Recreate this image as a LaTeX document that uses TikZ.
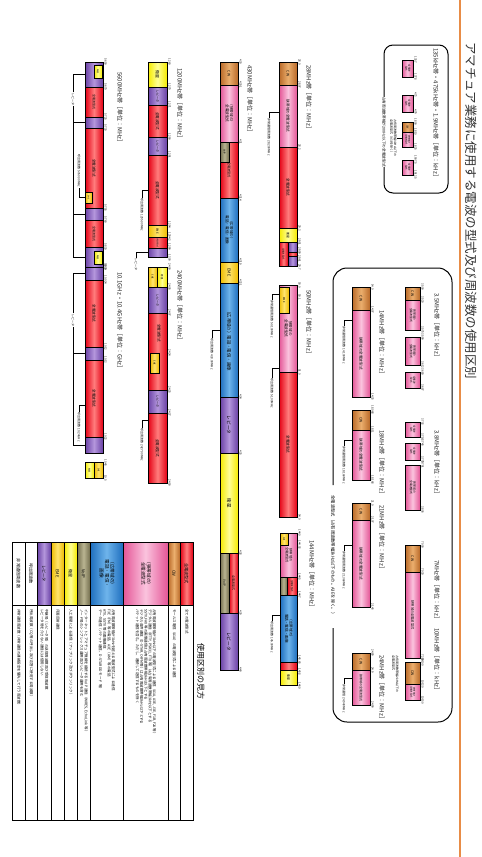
\documentclass[tikz,border=0pt]{standalone}
\usepackage{fontspec}
\usepackage{graphicx}
\newfontfamily\jp{Noto Sans CJK JP}
\newcommand\fz[2]{\fontsize{#1}{#2}\selectfont}
\newcommand\ml[1]{\begin{tabular}{@{}c@{}}#1\end{tabular}}
\newcommand\mll[1]{\begin{tabular}{@{}l@{}}#1\end{tabular}}
\definecolor{pkD}{RGB}{228,85,150}\definecolor{pkL}{RGB}{250,195,222}
\definecolor{rdD}{RGB}{228,0,20}\definecolor{rdL}{RGB}{255,125,125}
\definecolor{blD}{RGB}{30,110,190}\definecolor{blL}{RGB}{110,180,235}
\definecolor{puD}{RGB}{105,65,165}\definecolor{puL}{RGB}{180,150,220}
\definecolor{yeD}{RGB}{245,235,0}\definecolor{yeL}{RGB}{255,255,150}
\definecolor{emD}{RGB}{238,188,0}\definecolor{emL}{RGB}{255,228,110}
\definecolor{cwD}{RGB}{185,105,40}\definecolor{cwL}{RGB}{235,175,110}
\definecolor{olD}{RGB}{115,110,78}\definecolor{olL}{RGB}{185,180,145}
\definecolor{orL}{RGB}{232,140,70}
\newcounter{lc}
\newcommand\sg[7]{\node[seg,#6,minimum width={#4-#2},minimum height={#5-#3}] (#1) at (#2,#3) {\rotatebox{-90}{#7}};}
\newcommand\fls[2]{\foreach \yy/\ft in {#2}{\stepcounter{lc}\node[flab] (L\arabic{lc}) at (#1,\yy) {\ft};}}
\newcommand\lrow[6]{\node[seg,#4,minimum width={#3-#2},minimum height={63}] (#1h) at (#2,542) {\rotatebox{-90}{#5}};
 \node[desc,minimum width={#3-#2},minimum height={215}] (#1d) at (#2,605) {};
 \node[ltext] (#1t) at ({(#2+#3)/2},609) {\mll{#6}};}
\begin{document}
\begin{tikzpicture}[x=1pt,y=-1pt,
 seg/.style={draw=black,line width=0.6pt,inner sep=0pt,outer sep=0pt,anchor=north west,font={\jp\fz{3.6}{4}}},
 fpk/.style={left color=pkD,right color=pkD,middle color=pkL},
 frd/.style={left color=rdD,right color=rdD,middle color=rdL},
 fbl/.style={left color=blD,right color=blD,middle color=blL},
 fpu/.style={left color=puD,right color=puD,middle color=puL},
 fye/.style={left color=yeD,right color=yeD,middle color=yeL},
 fem/.style={left color=emD,right color=emD,middle color=emL},
 fcw/.style={left color=cwD,right color=cwD,middle color=cwL},
 fol/.style={left color=olD,right color=olD,middle color=olL},
 fwh/.style={fill=white},
 flab/.style={font={\jp\fz{2.8}{3}},rotate=-90,anchor=south,inner sep=0.4pt},
 btitle/.style={font={\jp\fz{6}{6}},rotate=-90,anchor=west,inner sep=0pt,text=black!85},
 note/.style={font={\jp\fz{3}{3.5}},rotate=-90,anchor=west,inner sep=0.5pt},
 conn/.style={draw=black,line width=0.8pt},
 boxline/.style={draw=black,line width=1pt},
 desc/.style={draw=black,fill=white,line width=0.6pt,inner sep=0pt,outer sep=0pt,anchor=north west},
 ltext/.style={font={\jp\fz{3.5}{4.3}},rotate=-90,anchor=west,inner sep=0pt}]
\useasboundingbox[fill=white] (0,0) rectangle (482,857);
% title and orange rule
\node[font={\jp\fz{12.5}{12.5}},rotate=-90,anchor=west,inner sep=0pt,text=black!80] (title) at (471,42) {アマチュア業務に使用する電波の型式及び周波数の使用区別};
\draw[orL,line width=2pt] (460,0) -- (460,857);
% ---------- box 1 : 135k / 475k / 1.9M
\draw[boxline,rounded corners=9pt] (384,97) -- (384,45) -- (448,45) -- (448,193) -- (384,193) -- (384,167);
\node[note,anchor=center,font={\jp\fz{3.7}{4}}] (b1note) at (384,132) {占有周波数帯幅が200Hz以下の全電波型式};
\node[btitle] (t1) at (436,48) {135kHz帯・475kHz帯・1.9MHz帯［単位：kHz］};
\sg{b1a}{402}{60}{413}{77}{fpk}{{\fz{2.4}{2.7}\ml{全電波\\型式}}}
\sg{b1b}{402}{95}{413}{112}{fpk}{{\fz{2.4}{2.7}\ml{全電波\\型式}}}
\sg{b1c}{402}{122}{413}{132}{fcw}{{\fz{2.6}{3}CW}}
\sg{b1d}{402}{132}{413}{147}{fpk}{{\fz{2.2}{2.5}\ml{狭帯域の\\全電波型式}}}
\sg{b1e}{402}{160}{413}{175}{fpk}{{\fz{2.4}{2.7}\ml{全電波\\型式}}}
\fls{414}{60/135.7,77/137.8,95/472,112/479,122/1800,132/1810,147/1825,160/1907.5,175/1912.5}
\node[note,anchor=center] (b1n2) at (393,138) {\mll{占有周波数帯幅3kHz以下の\\全電波型式（A3Eを除く）}};
\draw[conn] (b1n2.north) -- (b1n2.north -| b1d.west);
% ---------- box 2 : HF
\draw[boxline,rounded corners=14pt] (333,485) -- (333,268) -- (452,268) -- (452,722) -- (333,722) -- (333,628);
\node[note,anchor=center,font={\jp\fz{4.3}{4.5}}] (b2note) at (333,556) {全電波型式（占有周波数帯幅3kHz以下のもの。A3Eを除く。）};
% 3.5 MHz
\node[btitle] (t35) at (437,293) {3.5MHz帯［単位：kHz］};
\sg{h35a}{405}{287}{420}{300}{fcw}{CW}
\sg{h35b}{405}{300}{420}{330}{fpk}{{\fz{2.8}{3.2}\ml{狭帯域の\\全電波型式}}}
\sg{h35c}{405}{337}{420}{365}{fpk}{{\fz{2.8}{3.2}\ml{狭帯域の\\全電波型式}}}
\sg{h35d}{405}{372}{420}{388}{fpk}{{\fz{2.5}{2.8}\ml{全電波\\型式}}}
\fls{421}{287/3500,300/3520,330/3575,337/3599,365/3612,372/3680,388/3687}
% 3.8 MHz
\node[btitle] (t38) at (437,430) {3.8MHz帯［単位：kHz］};
\sg{h38a}{405}{422}{420}{437}{fpk}{{\fz{2.4}{2.7}\ml{全電波\\型式}}}
\sg{h38b}{405}{443}{420}{460}{fpk}{{\fz{2.4}{2.7}\ml{全電波\\型式}}}
\sg{h38c}{405}{465}{420}{510}{fpk}{{\fz{2.8}{3.2}\ml{狭帯域の\\全電波型式}}}
\fls{421}{422/3702,437/3716,443/3745,460/3770,465/3791,510/3805}
% 7 MHz
\node[btitle] (t7) at (437,560) {7MHz帯［単位：kHz］};
\sg{h7a}{405}{545}{420}{572}{fcw}{CW}
\sg{h7b}{405}{572}{420}{658}{fpk}{{\fz{3.2}{3.5}狭帯域の全電波型式}}
\fls{421}{545/7000,572/7030,658/7200}
% 10 MHz
\node[btitle] (t10) at (437,628) {10MHz帯［単位：kHz］};
\sg{h10a}{405}{662}{420}{684}{fcw}{CW}
\sg{h10b}{405}{684}{420}{700}{fpk}{{\fz{2.2}{2.5}\ml{狭帯域の\\全電波型式}}}
\fls{421}{662/10100,684/10130,700/10150}
\node[note] (n10) at (395,655) {\mll{占有周波数帯幅2kHz以下の\\全電波型式}};
% 14 MHz
\node[btitle] (t14) at (382,310) {14MHz帯［単位：MHz］};
\sg{h14a}{352}{287}{370}{310}{fcw}{CW}
\sg{h14b}{352}{310}{370}{397}{fpk}{狭帯域の全電波型式}
\fls{371}{287/14.0,310/14.07,397/14.35}
\coordinate (k14) at (352,320);
\node[note] (n14) at (344,326) {非常通信周波数 14.100MHz};
\draw[conn] (n14.west) |- (k14);
% 18 MHz
\node[btitle] (t18) at (382,430) {18MHz帯［単位：MHz］};
\sg{h18a}{352}{410}{370}{430}{fcw}{CW}
\sg{h18b}{352}{430}{370}{480}{fpk}{狭帯域の全電波型式}
\fls{371}{410/18.068,430/18.11,480/18.168}
\coordinate (k18) at (352,440);
\node[note] (n18) at (344,446) {非常通信周波数 18.160MHz};
\draw[conn] (n18.west) |- (k18);
% 21 MHz
\node[btitle] (t21) at (382,505) {21MHz帯［単位：MHz］};
\sg{h21a}{352}{503}{370}{520}{fcw}{CW}
\sg{h21b}{352}{520}{370}{607}{fpk}{狭帯域の全電波型式}
\fls{371}{503/21.0,520/21.07,607/21.45}
\coordinate (k21) at (352,545);
\node[note] (n21) at (344,551) {非常通信周波数 21.360MHz};
\draw[conn] (n21.west) |- (k21);
% 24 MHz
\node[btitle] (t24) at (382,655) {24MHz帯［単位：MHz］};
\sg{h24a}{352}{653}{370}{670}{fcw}{CW}
\sg{h24b}{352}{670}{370}{705}{fpk}{{\fz{3}{3.4}狭帯域の全電波型式}}
\fls{371}{653/24.89,670/24.9,705/24.99}
\coordinate (k24) at (352,678);
\node[note] (n24) at (344,684) {非常通信 24.940MHz};
\draw[conn] (n24.west) |- (k24);
% ---------- 28 MHz
\node[btitle] (t28) at (309,65) {28MHz帯［単位：MHz］};
\sg{s28a}{279}{62}{297}{85}{fcw}{CW}
\sg{s28b}{279}{85}{297}{147}{fpk}{狭帯域の全電波型式}
\sg{s28c}{279}{147}{297}{228}{frd}{全電波型式}
\sg{s28d}{279}{228}{297}{242}{fye}{{\fz{3}{3}衛星}}
\sg{s28e}{279}{242}{288}{266}{frd}{{\fz{2.2}{2.4}全電波型式}}
\sg{s28f}{288}{242}{297}{252}{fpu}{}
\sg{s28g}{288}{252}{297}{256}{frd}{}
\sg{s28h}{288}{256}{297}{266}{fpu}{}
\fls{298}{62/28.0,85/28.07,147/28.2,228/29.3,242/29.51,251/29.59,259/29.61,267/29.7}
\coordinate (k28) at (279,112);
\node[note] (n28) at (269,118) {非常通信周波数 28.200MHz};
\draw[conn] (n28.west) |- (k28);
% ---------- 50 MHz
\node[btitle] (t50) at (309,290) {50MHz帯［単位：MHz］};
\sg{s50a}{279}{285}{297}{372}{fpk}{\ml{狭帯域の\\全電波型式}}
\sg{s50e}{279}{287}{289}{313}{fem}{{\fz{2.6}{3}EME}}
\sg{s50b}{279}{372}{297}{517}{frd}{全電波型式}
\fls{298}{285/50.0,297/50.1,372/51.0,517/54.0}
\coordinate (k50a) at (279,294);
\node[note] (n50a) at (272,300) {非常通信周波数 50.100MHz};
\draw[conn] (n50a.west) |- (k50a);
\coordinate (k50b) at (279,368);
\node[note] (n50b) at (272,378) {呼出周波数 51.00MHz};
\draw[conn] (n50b.west) |- (k50b);
% ---------- 430 MHz
\node[btitle] (t43) at (250,65) {430MHz帯［単位：MHz］};
\sg{s43a}{220}{62}{238}{85}{fcw}{CW}
\sg{s43b}{220}{85}{238}{142}{fpk}{\ml{（狭帯域の）\\全電波型式}}
\sg{s43c}{220}{142}{238}{198}{frd}{{\fz{3.2}{3.5}全電波型式}}
\sg{s43v}{220}{142}{229}{162}{fol}{{\fz{2.4}{2.4}VoIP}}
\sg{s43d}{220}{198}{238}{262}{fbl}{\ml{（広帯域の）\\電話・電信・画像}}
\sg{s43e}{220}{262}{238}{283}{fem}{{\fz{4}{4}EME}}
\sg{s43f}{220}{283}{238}{397}{fbl}{{\fz{4.4}{4.6}（広帯域の）電話・電信・画像}}
\sg{s43g}{220}{397}{238}{453}{fpu}{{\fz{4.6}{5}レピータ}}
\sg{s43h}{220}{453}{238}{553}{fye}{{\fz{4.6}{5}衛星}}
\sg{s43i}{229}{553}{238}{613}{frd}{{\fz{3}{3}全電波型式}}
\sg{s43j}{220}{553}{229}{613}{fol}{{\fz{3}{3}VoIP}}
\sg{s43k}{220}{613}{238}{670}{fpu}{{\fz{4.6}{5}レピータ}}
\fls{239}{62/430,85/430.1,142/431,198/431.4,262/431.9,283/432.1,397/434,453/435,553/438,613/439,670/440}
\coordinate (k43) at (220,330);
\node[note] (n43) at (212,338) {呼出周波数 433.00MHz};
\draw[conn] (n43.west) |- (k43);
% ---------- 144 MHz
\node[btitle] (t144) at (312,540) {144MHz帯［単位：MHz］};
\sg{s14a}{280}{533}{297}{577}{fpk}{{\fz{3.2}{3.6}\ml{狭帯域の\\全電波型式}}}
\sg{s14e}{280}{533}{288}{545}{fem}{{\fz{2}{2}EME}}
\sg{s14v}{280}{577}{287}{595}{fol}{}
\sg{s14b}{287}{577}{297}{595}{frd}{{\fz{2.3}{2.5}全電波型式}}
\sg{s14c}{280}{595}{297}{662}{fbl}{\ml{（広帯域の）\\電話・電信・画像}}
\sg{s14d}{280}{662}{297}{670}{frd}{}
\sg{s14f}{280}{670}{297}{685}{fye}{{\fz{3}{3}衛星}}
\fls{298}{533/144.0,545/144.02,577/144.5,595/144.7,660/145.65,672/145.8,686/146.0}
\coordinate (k144) at (280,615);
\node[note] (n144) at (272,621) {呼出周波数 145.00MHz};
\draw[conn] (n144.west) |- (k144);
% ---------- 1200 MHz
\node[btitle] (t12) at (180,68) {1200MHz帯［単位：MHz］};
\sg{s12a}{148}{62}{167}{87}{fye}{{\fz{4}{4}衛星}}
\sg{s12b}{148}{87}{167}{105}{fpu}{{\fz{3}{3}レピータ}}
\sg{s12c}{148}{105}{167}{137}{frd}{全電波型式}
\sg{s12d}{148}{137}{167}{155}{fpu}{{\fz{3}{3}レピータ}}
\sg{s12e}{148}{155}{167}{225}{frd}{全電波型式}
\sg{s12f}{148}{225}{167}{237}{fem}{{\fz{2.8}{3}EME}}
\sg{s12g}{148}{237}{167}{248}{frd}{{\fz{1.9}{2}全電波型式}}
\sg{s12h}{148}{248}{167}{257}{fpu}{}
\fls{168}{62/1260,87/1270,105/1271,137/1290,155/1291,225/1294,237/1294.2,247/1299,258/1300}
\coordinate (k12a) at (148,190);
\node[note] (n12a) at (142,198) {呼出周波数 1295.00MHz};
\draw[conn] (n12a.west) |- (k12a);
\coordinate (k12b) at (148,252);
\node[note] (n12b) at (136,258) {レピータ};
\draw[conn] (n12b.west) |- (k12b);
% ---------- 2400 MHz
\node[btitle] (t2g) at (180,270) {2400MHz帯［単位：MHz］};
\sg{s24e}{148}{267}{157}{287}{fem}{{\fz{2.4}{2.4}EME}}
\sg{s24s}{157}{267}{167}{287}{fye}{{\fz{2.4}{2.4}衛星}}
\sg{s24a}{148}{287}{167}{313}{fpu}{{\fz{3}{3}レピータ}}
\sg{s24b}{148}{313}{167}{390}{frd}{}
\node[font={\jp\fz{3.6}{4}},rotate=-90,inner sep=0pt] (s24bt) at (159,333) {全電波型式};
\sg{s24x}{150}{353}{159}{373}{fem}{{\fz{2.4}{2.4}EME}}
\sg{s24c}{148}{390}{167}{413}{fpu}{{\fz{3}{3}レピータ}}
\sg{s24d}{148}{413}{167}{483}{frd}{全電波型式}
\fls{168}{267/2400,287/2405,313/2407,353/2424,390/2425,413/2427,483/2450}
\coordinate (k2g) at (148,420);
\node[note] (n2g) at (142,428) {呼出周波数 2427.00MHz};
\draw[conn] (n2g.west) |- (k2g);
% ---------- 5600 MHz
\node[btitle] (t56) at (120,72) {5600MHz帯［単位：MHz］};
\sg{s56a}{85}{62}{103}{87}{fpu}{}
\sg{s56as}{94}{65}{102}{78}{fye}{{\fz{2}{2}衛星}}
\sg{s56b}{85}{87}{103}{117}{frd}{{\fz{3}{3}全電波型式}}
\sg{s56c}{85}{117}{103}{128}{fpu}{}
\sg{s56d}{85}{128}{103}{208}{frd}{全電波型式}
\sg{s56e}{85}{192}{92}{203}{fem}{{\fz{1.8}{2}EME}}
\sg{s56f}{85}{208}{103}{220}{fpu}{}
\sg{s56g}{85}{220}{103}{247}{frd}{{\fz{3}{3}全電波型式}}
\sg{s56h}{85}{247}{103}{267}{fpu}{}
\sg{s56hs}{94}{251}{102}{264}{fye}{{\fz{2}{2}衛星}}
\fls{104}{62/5650,87/5670,117/5725,128/5730,208/5755,220/5760,247/5830,267/5850}
\coordinate (r56a) at (85,74);\coordinate (r56b) at (85,122);
\coordinate (r56c) at (85,214);\coordinate (r56d) at (85,257);
\node[note,anchor=center] (n56r) at (73,99) {レピータ};
\draw[conn] (n56r.west) |- (r56a);
\draw[conn] (n56r.east) |- (r56d);
\draw[conn] (r56b) -- (r56b -| n56r.east);
\draw[conn] (r56c) -- (r56c -| n56r.east);
\node[note,anchor=east] (n56c) at (79,188) {呼出周波数 5760.00MHz};
\draw[conn] (n56c.east) |- (s56e.west);
% ---------- 10 GHz
\node[btitle] (t10g) at (120,272) {10.1GHz・10.4GHz帯［単位：GHz］};
\sg{s10a}{85}{267}{103}{280}{fpu}{}
\sg{s10b}{85}{280}{103}{347}{frd}{全電波型式}
\sg{s10c}{85}{347}{103}{360}{fpu}{}
\sg{s10d}{85}{360}{103}{437}{frd}{全電波型式}
\sg{s10e}{85}{437}{103}{453}{fpu}{}
\sg{s10f}{85}{462}{94}{478}{fye}{{\fz{2}{2}衛星}}
\sg{s10g}{94}{462}{103}{478}{fem}{{\fz{2}{2}EME}}
\fls{104}{267/10.0,280/10.024,347/10.12,360/10.13,437/10.22,463/10.45,478/10.5}
\coordinate (r10a) at (85,273);\coordinate (r10b) at (85,353);\coordinate (r10c) at (85,445);
\node[note,anchor=center] (n10r) at (73,320) {レピータ};
\draw[conn] (n10r.west) |- (r10a);
\draw[conn] (n10r.east) |- (r10c);
\draw[conn] (r10b) -- (r10b -| n10r.east);
\coordinate (k10c) at (85,405);
\node[note] (n10c) at (79,412) {呼出周波数 10.24GHz};
\draw[conn] (n10c.west) |- (k10c);
% ---------- legend
\node[font={\jp\fz{8}{8}},rotate=-90,anchor=west,inner sep=0pt] (lgt) at (201,643) {使用区別の見方};
\lrow{la}{180}{193}{frd}{{\fz{4.2}{4.5}全電波型式}}{全ての電波型式}
\lrow{lb}{168}{180}{fcw}{{\fz{4.2}{4.5}CW}}{モールス電信（A1A）の電波型式による通信}
\lrow{lc}{123}{168}{fpk}{{\fz{4.6}{5.2}\ml{（狭帯域の）\\全電波型式}}}{占有周波数帯幅が3kHz以下の電波型式による通信（A1A, A3E, J3E, F1B, F2A 等）\\デジタル通信（RTTY, PSK31, FT8 等）は占有周波数帯幅3kHz以下とする\\SSTV, FAX 等の画像通信は占有周波数帯幅3kHz以下とする\\デジタル音声通信（D-STAR, C4FM 等）は占有周波数帯幅3kHz以下とする\\パケット通信を含む。ただし、連続して送信するものを除く}
\lrow{ld}{90}{123}{fbl}{{\fz{4.6}{5.2}\ml{（広帯域の）\\電話・電信・\\画像}}}{占有周波数帯幅が3kHzを超える電波型式による通信\\F3E（FM）等の電話、A3E（AM）等の電話\\ATV、SSTV 等の画像通信\\データ通信（パケット通信、D-STAR DD モード 等）}
\lrow{le}{77}{90}{fol}{{\fz{4.2}{4.5}VoIP}}{インターネットとアマチュア無線を接続する VoIP 通信（WIRES, EchoLink 等）\\ノード局のシンプレックス運用及びレピータ運用を含む}
\lrow{lf}{64}{77}{fye}{{\fz{4.2}{4.5}衛星}}{人工衛星による通信（アップリンク及びダウンリンク）}
\lrow{lg}{51}{64}{fem}{{\fz{4.2}{4.5}EME}}{月面反射通信}
\lrow{lh}{37}{51}{fpu}{{\fz{4.2}{4.5}レピータ}}{中継局（レピータ局）の送信周波数及び受信周波数\\レピータ局を介さない通信には使用しない}
\lrow{li}{25}{37}{fwh}{{\fz{4.2}{4.5}呼出周波数}}{呼出周波数（CQ 等の呼出し及び応答に使用する周波数）}
\lrow{lj}{12}{25}{fwh}{{\fz{4.2}{4.5}非常通信周波数}}{非常通信周波数（非常通信の連絡設定を優先して行う周波数）}
\end{tikzpicture}
\end{document}
